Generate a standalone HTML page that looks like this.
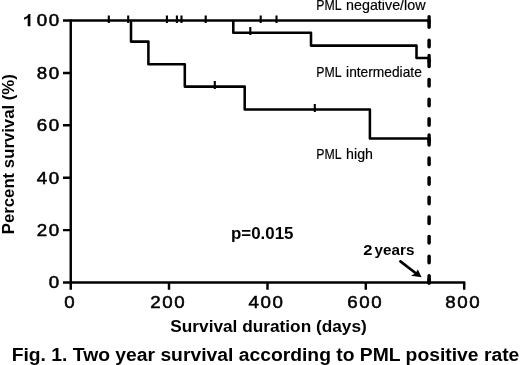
<!DOCTYPE html>
<html>
<head>
<meta charset="utf-8">
<title>Fig. 1</title>
<style>
html,body{margin:0;padding:0;background:#fff;}
body{width:520px;height:365px;overflow:hidden;font-family:"Liberation Sans",sans-serif;}
svg{display:block;will-change:transform;filter:blur(0.4px);}
text{font-family:"Liberation Sans",sans-serif;fill:#000;}
.tk{font-size:16.6px;stroke:#000;stroke-width:0.5px;letter-spacing:1.45px;}
.lb{font-size:14.1px;stroke:#000;stroke-width:0.18px;}
.b{font-weight:bold;}
</style>
</head>
<body>
<svg width="520" height="365" viewBox="0 0 520 365">
<rect width="520" height="365" fill="#fff"/>
<!-- axes -->
<g stroke="#000" stroke-width="2.45" fill="none" stroke-linecap="butt">
  <path d="M70.75 19.4V289.7"/>
  <path d="M63 282.5H465.3"/>
  <!-- y ticks -->
  <path d="M63 20.5H71M63 72.9H71M63 125.3H71M63 177.7H71M63 230.1H71"/>
  <!-- x ticks -->
  <path d="M169 282.5V289.7M267.5 282.5V289.7M365.8 282.5V289.7M464.2 282.5V289.7"/>
</g>
<!-- curves -->
<g stroke="#000" stroke-width="2.55" fill="none" stroke-linejoin="round">
  <path d="M70.75 20.5H429"/>
  <path d="M233.3 20.5V32.8H311V45.6H416.5V58H429"/>
  <path d="M131 20.5V41.6H148.4V64.3H184.8V86.6H244.7V109.5H369.9V138.4H429"/>
</g>
<!-- censor ticks -->
<g stroke="#000" stroke-width="2.1" fill="none">
  <path d="M108.8 15.4V23M128.2 15.4V23M166.9 15.4V23M176.9 15.4V23M181.5 15.4V23M205.7 15.4V23M260.7 15.4V23M276.5 15.4V23"/>
  <path d="M250.3 27V35"/>
  <path d="M214.8 81V89M314.8 104V112"/>
</g>
<!-- dashed 2-year line -->
<g stroke="#000" fill="none" stroke-linecap="round">
  <path d="M429.1 20.75V284" stroke-width="3.5" stroke-dasharray="6.5 13.12"/>
  <path d="M429.1 16.6V22M429.1 55.3V62M429.1 134.8V142" stroke-width="3.3"/>
</g>
<!-- arrow -->
<g stroke="#000" fill="#000">
  <path d="M400.4 261.4L416.5 273.8" stroke-width="2.6" fill="none" stroke-linecap="round"/>
  <path d="M421.6 277.2L411 275.8L415.2 273.4L417.9 269.6Z" stroke="none"/>
  <path d="M429.1 279V283.2" stroke-width="3.5" stroke-linecap="round" fill="none"/>
</g>
<!-- y tick labels -->
<g class="tk" text-anchor="end">
  <text transform="translate(60.85 26.4) scale(1.13 1)">00</text>
  <path d="M30.4 13.9H28.5C27.8 15.6 26 16.9 24.1 17.5V19.7C25.6 19.2 27 18.2 27.7 17.4V26.2H30.4Z" stroke="none"/>
  <text transform="translate(60.85 78.8) scale(1.13 1)">80</text>
  <text transform="translate(60.85 131.2) scale(1.13 1)">60</text>
  <text transform="translate(60.85 183.6) scale(1.13 1)">40</text>
  <text transform="translate(60.85 236.0) scale(1.13 1)">20</text>
  <text transform="translate(60.85 288.3) scale(1.13 1)">0</text>
</g>
<!-- x tick labels -->
<g class="tk" text-anchor="middle">
  <text transform="translate(70.3 308.0) scale(1.13 1)">0</text>
  <text transform="translate(168.3 308.0) scale(1.13 1)">200</text>
  <text transform="translate(266.5 308.0) scale(1.13 1)">400</text>
  <text transform="translate(365.3 308.0) scale(1.13 1)">600</text>
  <text transform="translate(463.3 308.0) scale(1.13 1)">800</text>
</g>
<!-- series labels -->
<g class="lb">
  <text x="316.2" y="9.8" textLength="25.3" lengthAdjust="spacingAndGlyphs">PML</text>
  <text x="346.1" y="9.8" textLength="79.4" lengthAdjust="spacingAndGlyphs">negative/low</text>
  <text x="316.2" y="77.1" textLength="25.3" lengthAdjust="spacingAndGlyphs">PML</text>
  <text x="346.1" y="77.1" textLength="75.7" lengthAdjust="spacingAndGlyphs">intermediate</text>
  <text x="316.2" y="159.3" textLength="25.3" lengthAdjust="spacingAndGlyphs">PML</text>
  <text x="346.1" y="159.3" textLength="26.9" lengthAdjust="spacingAndGlyphs">high</text>
</g>
<!-- annotations -->
<text class="b" x="231" y="239" font-size="16.7" textLength="62.5" lengthAdjust="spacingAndGlyphs">p=0.015</text>
<text class="b" x="363.2" y="255" font-size="14.2" textLength="9.2" lengthAdjust="spacingAndGlyphs">2</text>
<text class="b" x="374.6" y="255" font-size="14.2" textLength="39.8" lengthAdjust="spacingAndGlyphs">years</text>
<!-- axis titles -->
<text class="b" x="170.3" y="332" font-size="16.7" textLength="196.5" lengthAdjust="spacingAndGlyphs">Survival duration (days)</text>
<text class="b" transform="translate(13.7 234.2) rotate(-90)" font-size="17" textLength="160" lengthAdjust="spacingAndGlyphs">Percent survival (%)</text>
<!-- caption -->
<text class="b" x="11.7" y="361" font-size="18" textLength="507.6" lengthAdjust="spacingAndGlyphs">Fig. 1. Two year survival according to PML positive rate</text>
</svg>
</body>
</html>
